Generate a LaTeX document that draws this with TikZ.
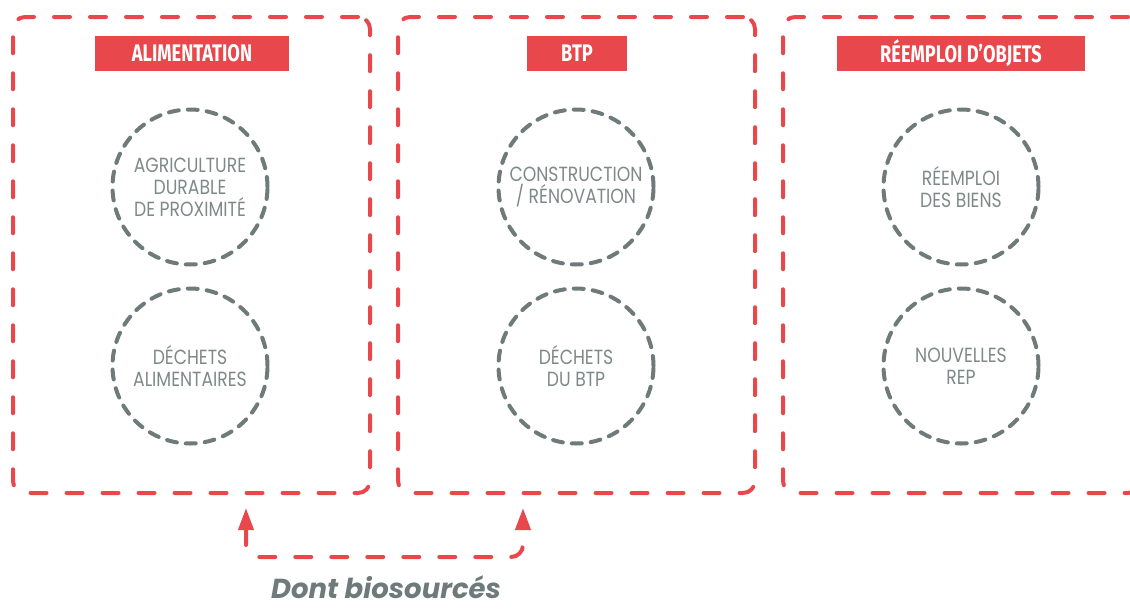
\documentclass[tikz,border=0pt]{standalone}
\usepackage{fontspec}
\setmainfont{Poppins}
\newfontfamily\hdrfont[FakeStretch=0.76]{Fira Sans}
\newfontfamily\circfont[FakeStretch=0.84]{Poppins}
\usetikzlibrary{arrows.meta}
\definecolor{cred}{HTML}{E8474C}
\definecolor{cgray}{HTML}{6E7B7A}
\definecolor{tgray}{HTML}{7E8988}
\tikzset{
  zonebox/.style={draw=cred, line width=4pt, dash pattern=on 16pt off 20pt, line cap=round,
    rounded corners=12pt, minimum width=357pt, minimum height=476pt, inner sep=0pt},
  headbox/.style={fill=cred, text=white, minimum height=35pt, inner sep=0pt,
    font=\hdrfont\bfseries\fontsize{24}{26}\selectfont},
  topic/.style={circle, draw=cgray, line width=4pt, dash pattern=on 10pt off 9pt, line cap=round,
    minimum size=155pt, inner sep=0pt, align=center, text=tgray,
    font=\circfont\fontsize{20.5}{22}\selectfont},
  link/.style={draw=cred, line width=4pt, dash pattern=on 16pt off 20pt, line cap=round,
    rounded corners=12pt, {Triangle[length=22pt,width=15pt]}-{Triangle[length=22pt,width=15pt]}},
  caption/.style={text=cgray, inner sep=0pt, anchor=base, font=\bfseries\itshape\fontsize{27.5}{30}\selectfont}
}
\begin{document}
\begin{tikzpicture}[x=1pt,y=-1pt]
\useasboundingbox (0,0) rectangle (1130,608);
\node[zonebox] (b1) at (191.5,255) {};
\node[zonebox] (b2) at (576.5,255) {};
\node[zonebox] (b3) at (961.5,255) {};
\node[headbox, minimum width=194pt] (h1) at (192,53.5) {ALIMENTATION};
\node[headbox, minimum width=100pt] (h2) at (577,53.5) {BTP};
\node[headbox, minimum width=248pt] (h3) at (961,53.5) {RÉEMPLOI D’OBJETS};
\node[topic] (c1) at (190,187) {AGRICULTURE\\DURABLE\\DE PROXIMITÉ};
\node[topic] (c2) at (190,366) {DÉCHETS\\ALIMENTAIRES};
\node[topic] (c3) at (576,187) {CONSTRUCTION\\/ RÉNOVATION};
\node[topic] (c4) at (576,366) {DÉCHETS\\DU BTP};
\node[topic] (c5) at (961,187) {RÉEMPLOI\\DES BIENS};
\node[topic] (c6) at (961,366) {NOUVELLES\\REP};
\coordinate (a1) at (246,508);
\coordinate (a2) at (523,508);
\draw[link] (a1) -- (a1 |- 0,557) -- (a2 |- 0,557) -- (a2);
\node[caption] (cap) at (386,598) {Dont biosourcés};
\end{tikzpicture}
\end{document}
